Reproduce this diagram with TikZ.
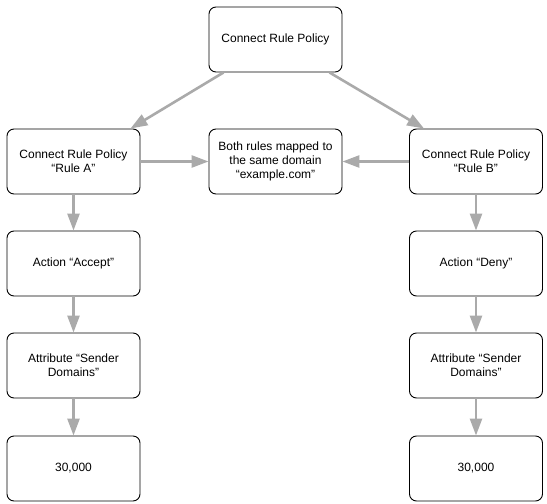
\documentclass[tikz,border=0pt]{standalone}
\usepackage{fontspec}
\setmainfont{Liberation Sans}
\usetikzlibrary{arrows.meta}
\definecolor{arrowgray}{RGB}{170,170,170}
\tikzset{
    box/.style={draw=black, line width=0.9pt, rounded corners=7pt, fill=white,
        minimum width=133pt, minimum height=65pt, align=center,
        font=\fontsize{12}{14.2}\selectfont},
    flow/.style={draw=arrowgray, line width=2.6pt,
        -{Triangle[length=17pt, width=12pt]}}
}

\begin{document}
\begin{tikzpicture}[x=1pt, y=-1pt]
    \useasboundingbox (0, 0) rectangle (547, 504);
    % Policy boxes
    \node[box] (policy) at (275.5, 39.5) {Connect Rule Policy};
    \node[box] (ruleA) at (73.5, 161.5) {Connect Rule Policy\\``Rule A''};
    \node[box] (domain) at (275.5, 161.5) {Both rules mapped to\\the same domain\\``example.com''};
    \node[box] (ruleB) at (476, 161.5) {Connect Rule Policy\\``Rule B''};
    % Left column
    \node[box] (actA) at (73.5, 263.5) {Action ``Accept''};
    \node[box] (attrA) at (73.5, 365.5) {Attribute ``Sender\\Domains''};
    \node[box] (valA) at (73.5, 468.5) {30,000};
    % Right column
    \node[box] (actB) at (476, 263.5) {Action ``Deny''};
    \node[box] (attrB) at (476, 365.5) {Attribute ``Sender\\Domains''};
    \node[box] (valB) at (476, 468.5) {30,000};
    % Arrows
    \draw[flow] ([xshift=15pt]policy.south west) -- ([xshift=-10pt]ruleA.north east);
    \draw[flow] ([xshift=-13pt]policy.south east) -- ([xshift=15pt]ruleB.north west);
    \draw[flow] (ruleA.east) -- (domain.west);
    \draw[flow] (ruleB.west) -- (domain.east);
    \draw[flow] (ruleA) -- (actA);
    \draw[flow] (actA) -- (attrA);
    \draw[flow] (attrA) -- (valA);
    \draw[flow] (ruleB) -- (actB);
    \draw[flow] (actB) -- (attrB);
    \draw[flow] (attrB) -- (valB);
\end{tikzpicture}
\end{document}
